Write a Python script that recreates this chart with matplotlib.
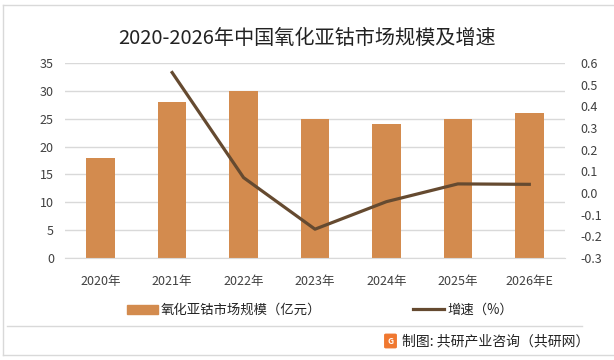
import matplotlib
matplotlib.use("Agg")
import matplotlib.pyplot as plt
from matplotlib.lines import Line2D
from matplotlib.patches import Patch, FancyBboxPatch

plt.rcParams['font.family'] = ['Noto Sans CJK SC', 'DejaVu Sans']

years = ["2020年", "2021年", "2022年", "2023年", "2024年", "2025年", "2026年E"]
market_size = [18, 28, 30, 25, 24, 25, 26]
growth_years = [1, 2, 3, 4, 5, 6]
growth_rate = [0.556, 0.071, -0.167, -0.040, 0.042, 0.040]

bar_color = "#D38B4E"
line_color = "#654A30"
grid_color = "#D9D9D9"
text_color = "#404040"

fig = plt.figure(figsize=(6.14, 3.6), dpi=100)

# outer frame and footer separator
fig.add_artist(Line2D([3/614, 3/614], [1-5/360, 1-355/360], color="#D9D9D9", lw=1))
fig.add_artist(Line2D([3/614, 1], [1-5/360, 1-5/360], color="#D9D9D9", lw=1))
fig.add_artist(Line2D([3/614, 1], [1-355/360, 1-355/360], color="#D9D9D9", lw=1))
fig.add_artist(Line2D([7/614, 582/614], [1-326/360, 1-326/360], color="#D9D9D9", lw=1))

ax = fig.add_axes([65/614, 1-258/360, 500/614, 195/360])
x = list(range(len(years)))
ax.bar(x, market_size, width=0.4, color=bar_color, zorder=2)
ax.set_ylim(0, 35)
ax.set_yticks(range(0, 36, 5))
ax.set_xlim(-0.5, len(years) - 0.5)
ax.set_xticks(x)
ax.set_xticklabels(years)
ax.grid(axis="y", color=grid_color, lw=1, zorder=0)
for s in ["top", "right", "left"]:
    ax.spines[s].set_visible(False)
ax.spines["bottom"].set_color(grid_color)
ax.tick_params(axis="both", length=0, labelsize=9, colors=text_color)
ax.tick_params(axis="y", pad=8)
ax.tick_params(axis="x", pad=12)

ax2 = ax.twinx()
ax2.plot(growth_years, growth_rate, color=line_color, lw=2.3, zorder=3)
ax2.set_ylim(-0.3, 0.6)
ax2.set_yticks([i / 10 for i in range(-3, 7)])
ax2.set_yticklabels([f"{i / 10:.1f}" for i in range(-3, 7)])
for s in ax2.spines.values():
    s.set_visible(False)
ax2.tick_params(axis="y", length=0, labelsize=9, colors=text_color, pad=11)

fig.text(0.5, 1-38/360, "2020-2026年中国氧化亚钴市场规模及增速", ha="center", va="center",
         fontsize=14.5, color="#222222")

handles = [Patch(color=bar_color), Line2D([0], [0], color=line_color, lw=2.3)]
labels = ["氧化亚钴市场规模（亿元）", "增速（%）"]
fig.legend(handles, labels, loc="center", bbox_to_anchor=(320/614, 1-310/360), ncol=2,
           frameon=False, fontsize=9.6, columnspacing=6.9, handlelength=2.3, handletextpad=0.25,
           labelcolor="#222222")

# footer logo and source
logo = FancyBboxPatch((386/614, 1-347/360), 9/614, 12/360, boxstyle="round,pad=0.002",
                      transform=fig.transFigure, color="#F07830")
fig.add_artist(logo)
fig.text(390.5/614, 1-341/360, "G", ha="center", va="center", fontsize=6, color="white",
         fontweight="bold")
fig.text(402/614, 1-341/360, "制图: 共研产业咨询（共研网）", ha="left", va="center",
         fontsize=10, color="#222222")

fig.savefig("out.png", dpi=100)
